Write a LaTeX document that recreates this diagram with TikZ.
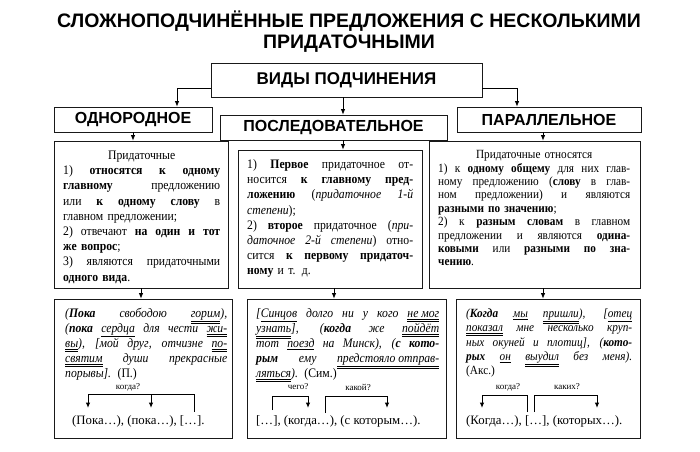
\documentclass[tikz,border=0pt]{standalone}
\usepackage{fontspec}
\setmainfont{Liberation Serif}[FakeStretch=0.9]
\newfontfamily\plainserif{Liberation Serif}
\newfontfamily\hdfont{Liberation Sans}
\usetikzlibrary{arrows.meta,calc}
\newlength\tw
\newcommand\J[1]{\par\noindent\hbox to\tw{\spaceskip=0.22em plus 1fil\relax #1}\par}
\newcommand\LL[1]{\par\noindent #1\par}
\newcommand\C[1]{\par\noindent\hbox to\tw{\hss #1\hss}\par}
\newcommand\su[1]{\underline{#1}}
\newcommand\du[1]{\underline{\underline{#1}}}
\begin{document}
\begin{tikzpicture}[x=1pt,y=-1pt,
 box/.style={draw=black!90, line width=0.8pt, inner sep=0pt},
 hd/.style={font=\hdfont\bfseries\fontsize{16}{18}\selectfont},
 arr/.style={-{Latex[length=5.5pt,width=4.5pt]}, line width=0.8pt},
 brka/.style={line width=1pt,-{Latex[length=5.5pt,width=4.5pt]}},
 body/.style={text width=#1, inner sep=0pt, anchor=north west,
   font=\fontsize{13}{15.2}\selectfont,
   execute at begin node={\lineskiplimit=-100pt\relax\setlength\tw{#1}}},
 bodyi/.style={text width=#1, inner sep=0pt, anchor=north west,
   font=\itshape\fontsize{13}{15}\selectfont,
   execute at begin node={\lineskiplimit=-100pt\relax\setlength\tw{#1}}},
 small/.style={font=\plainserif\fontsize{9}{10}\selectfont, inner sep=0pt},
 schema/.style={font=\plainserif\fontsize{12.8}{14}\selectfont, inner sep=0pt, anchor=base west},
]
\useasboundingbox (0,0) rectangle (700,451);
\fill[white] (0,0) rectangle (700,451);

\node[font=\hdfont\bfseries\fontsize{19.5}{21}\selectfont, align=center, inner sep=0pt] (title) at (349,32)
  {СЛОЖНОПОДЧИНЁННЫЕ ПРЕДЛОЖЕНИЯ С НЕСКОЛЬКИМИ\\ПРИДАТОЧНЫМИ};

% header boxes
\node[box, hd, font=\hdfont\bfseries\fontsize{17}{18}\selectfont, minimum width=271pt, minimum height=34pt] (vid) at (346.5,80) {ВИДЫ ПОДЧИНЕНИЯ};
\node[box, hd, minimum width=158pt, minimum height=25pt] (odn) at (133,119.5) {ОДНОРОДНОЕ};
\node[box, hd, minimum width=227pt, minimum height=25pt] (pos) at (333.5,127.5) {ПОСЛЕДОВАТЕЛЬНОЕ};
\node[box, hd, minimum width=184pt, minimum height=25pt] (par) at (549,119.5) {ПАРАЛЛЕЛЬНОЕ};

% row 2 boxes
\node[box, minimum width=174pt, minimum height=147pt] (L2) at (141,214.5) {};
\node[box, minimum width=184pt, minimum height=138pt] (M2) at (330,219) {};
\node[box, minimum width=211pt, minimum height=147pt] (R2) at (534.5,214.5) {};
% row 3 boxes
\node[box, minimum width=178pt, minimum height=139pt] (L3) at (143,368.5) {};
\node[box, minimum width=199pt, minimum height=139pt] (M3) at (346.5,368.5) {};
\node[box, minimum width=184pt, minimum height=139pt] (R3) at (548,368.5) {};

% connectors
\draw[arr] ([yshift=-8pt]vid.west) -| ([xshift=44pt]odn.north);
\draw[arr] ([xshift=-3.5pt]vid.south) -- ([xshift=-3.5pt]vid.south |- pos.north);
\draw[arr] ([yshift=-8pt]vid.east) -| ([xshift=-32pt]par.north);
\draw[arr] (odn.south) -- (odn.south |- L2.north);
\draw[arr] ([xshift=9.5pt]pos.south) -- ([xshift=9.5pt]pos.south |- M2.north);
\draw[arr] ([xshift=-6pt]par.south) -- ([xshift=-6pt]par.south |- R2.north);
\draw[arr] (L2.south) -- (L2.south |- L3.north);
\draw[arr] ([xshift=4pt]M2.south) -- ([xshift=4pt]M2.south |- M3.north);
\draw[arr] ([xshift=8.5pt]R2.south) -- ([xshift=8.5pt]R2.south |- R3.north);

% row 2 texts
\node[body=157pt] (tL2) at (63,144) {%
\C{Придаточные}
\J{1) \textbf{относятся к одному}}
\J{\textbf{главному} предложению}
\J{или \textbf{к одному слову} в}
\LL{главном предложении;}
\J{2) отвечают \textbf{на один и тот}}
\LL{\textbf{же вопрос};}
\J{3) являются придаточными}
\LL{\textbf{одного вида}.}};

\node[body=166pt] (tM2) at (247,153) {%
\J{1) \textbf{Первое} придаточное от-}
\J{носится \textbf{к главному пред-}}
\J{\textbf{ложению} (\textit{придаточное 1-й}}
\LL{\textit{степени});}
\J{2) \textbf{второе} придаточное (\textit{при-}}
\J{\textit{даточное 2-й степени}) отно-}
\J{сится \textbf{к первому придаточ-}}
\LL{\textbf{ному} и т. д.}};

\node[body=192pt, font=\fontsize{12.5}{13.4}\selectfont] (tR2) at (438,145) {%
\C{Придаточные относятся}
\J{1) к \textbf{одному общему} для них глав-}
\J{ному предложению (\textbf{слову} в глав-}
\J{ном предложении) и являются}
\LL{\textbf{разными по значению};}
\J{2) к \textbf{разным словам} в главном}
\J{предложении и являются \textbf{одина-}}
\J{\textbf{ковыми} или \textbf{разными по зна-}}
\LL{\textbf{чению}.}};

% row 3 texts
\node[bodyi=162pt] (tL3) at (65,302) {%
\J{(\textbf{Пока} свободою \du{горим}),}
\J{(\textbf{пока} \su{сердца} для чести \du{жи-}}
\J{\du{вы}), [мой друг, отчизне \du{по-}}
\J{\du{святим} души прекрасные}
\LL{порывы]. \textup{(П.)}}};

\node[bodyi=183pt] (tM3) at (256,302) {%
\J{[\su{Синцов} долго ни у кого \du{не мог}}
\J{\du{узнать}], (\textbf{когда} же \du{пойдёт}}
\J{тот \su{поезд} на Минск), (\textbf{с кото-}}
\J{\textbf{рым} ему \du{предстояло отправ-}}
\LL{\du{ляться}). \textup{(Сим.)}}};

\node[bodyi=166pt, font=\itshape\fontsize{12.5}{14.3}\selectfont] (tR3) at (466,303) {%
\J{(\textbf{Когда} \su{мы} \du{пришли}), [\su{отец}}
\J{\du{показал} мне несколько круп-}
\J{ных окуней и плотиц], (\textbf{кото-}}
\J{\textbf{рых} \su{он} \du{выудил} без меня).}
\LL{\textup{(Акс.)}}};

% schemas
\node[schema] (sL) at (72,424) {(Пока…), (пока…), […].};
\node[schema] (sM) at (256,424) {[…], (когда…), (с которым…).};
\node[schema] (sR) at (466,424) {(Когда…), […], (которых…).};

\node[small] (qL) at (128,387) {когда?};
\node[small] (qM1) at (298,387) {чего?};
\node[small] (qM2) at (358,387) {какой?};
\node[small] (qR1) at (508,387) {когда?};
\node[small] (qR2) at (567,387) {каких?};

% left bracket
\coordinate (Lk) at (194,412);
\coordinate (Lt) at (194,394);
\coordinate (La) at (88,408);
\coordinate (Lb) at (151,408);
\draw[brka] (Lk) -- (Lt) -| (La);
\draw[brka] (Lt -| Lb) -- (Lb);
% middle brackets
\coordinate (M1s) at (272,410);
\coordinate (M1e) at (308,408);
\coordinate (M2s) at (325,413);
\coordinate (M2e) at (387,408);
\draw[brka] (M1s) -- (272,396) -| (M1e);
\draw[brka] (M2s) -- (325,396) -| (M2e);
% right brackets
\coordinate (R1s) at (527,412);
\coordinate (R1e) at (482,408);
\coordinate (R2s) at (534,412);
\coordinate (R2e) at (597,408);
\draw[brka] (R1s) -- (527,395) -| (R1e);
\draw[brka] (R2s) -- (534,395) -| (R2e);
\end{tikzpicture}
\end{document}
